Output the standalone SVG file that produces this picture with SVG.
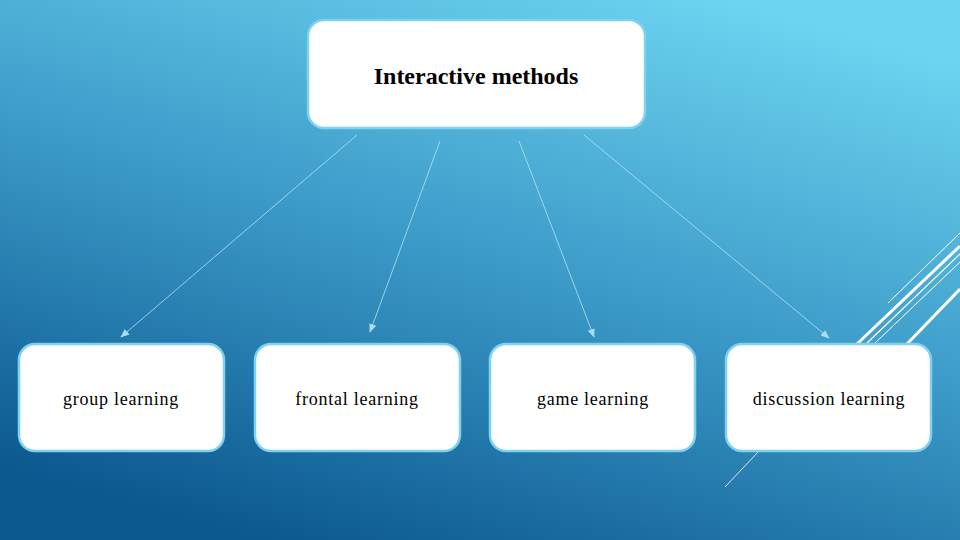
<svg xmlns="http://www.w3.org/2000/svg" width="960" height="540" viewBox="0 0 960 540">
<defs>
<linearGradient id="bg" x1="0.75" y1="0" x2="0.25" y2="1">
<stop offset="0" stop-color="#6dd3f0"/>
<stop offset="0.5" stop-color="#3a98c6"/>
<stop offset="1" stop-color="#0b578e"/>
</linearGradient>
<marker id="ah" viewBox="0 0 10 10" refX="9" refY="5" markerWidth="9" markerHeight="9" markerUnits="userSpaceOnUse" orient="auto">
<path d="M0,1 L10,5 L0,9 Z" fill="#a9dcf0"/>
</marker>
<style>
.box{fill:#ffffff;stroke:#7fd2ef;stroke-width:2.5}
.lbl{font-family:"Liberation Serif","Times New Roman",serif;font-size:18px;letter-spacing:0.75px;fill:#000;text-anchor:middle}
.title{font-family:"Liberation Serif","Times New Roman",serif;font-size:24px;font-weight:bold;fill:#000;text-anchor:middle}
.conn{stroke:#b5e2f4;stroke-width:0.8;fill:none;marker-end:url(#ah)}
.deco{stroke:#ffffff;fill:none}
</style>
</defs>
<rect width="960" height="540" fill="url(#bg)"/>
<g id="decoration">
<line class="deco" x1="888" y1="303" x2="960" y2="233" stroke-width="1"/>
<line class="deco" x1="857" y1="344" x2="960" y2="246" stroke-width="3"/>
<line class="deco" x1="866" y1="344" x2="960" y2="254" stroke-width="1.2"/>
<line class="deco" x1="874" y1="344" x2="960" y2="262" stroke-width="1"/>
<line class="deco" x1="907" y1="344" x2="960" y2="289" stroke-width="3"/>
<line class="deco" x1="759" y1="451" x2="725" y2="487" stroke-width="0.8" stroke="#cdeefa"/>
</g>
<g id="connectors">
<line class="conn" x1="357" y1="135" x2="121" y2="337"/>
<line class="conn" x1="440" y1="141" x2="370" y2="332"/>
<line class="conn" x1="519" y1="141" x2="594" y2="337"/>
<line class="conn" x1="584" y1="135" x2="829" y2="338"/>
</g>
<g id="node-interactive">
<rect class="box" x="308" y="20" width="337" height="108" rx="16"/>
<text class="title" x="476" y="84">Interactive methods</text>
</g>
<g id="node-group">
<rect class="box" x="19" y="344" width="205" height="107" rx="16"/>
<text class="lbl" x="121" y="405">group learning</text>
</g>
<g id="node-frontal">
<rect class="box" x="255" y="344" width="205" height="107" rx="16"/>
<text class="lbl" x="357" y="405">frontal learning</text>
</g>
<g id="node-game">
<rect class="box" x="490" y="344" width="205" height="107" rx="16"/>
<text class="lbl" x="593" y="405">game learning</text>
</g>
<g id="node-discussion">
<rect class="box" x="726" y="344" width="205" height="107" rx="16"/>
<text class="lbl" x="829" y="405">discussion learning</text>
</g>
</svg>
